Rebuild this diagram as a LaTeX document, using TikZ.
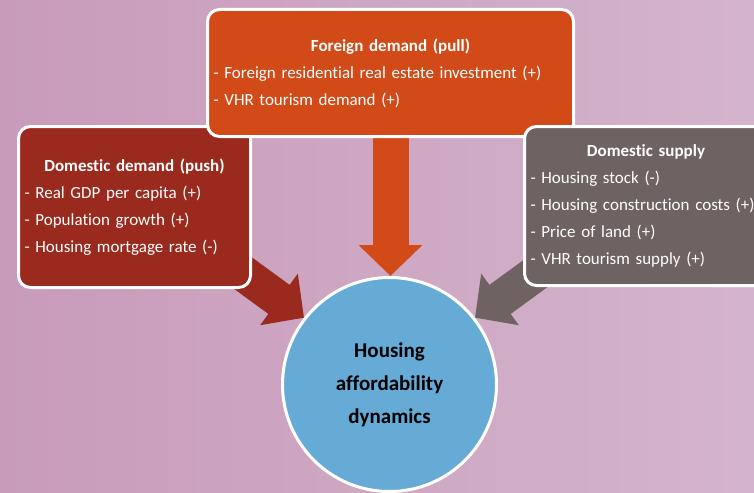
\documentclass[tikz,border=0pt]{standalone}
\usepackage{fontspec}
\setmainfont{Carlito}[Ligatures=NoCommon]
\usetikzlibrary{arrows.meta,calc}

\definecolor{bgleft}{RGB}{200,155,186}
\definecolor{bgright}{RGB}{212,180,204}
\definecolor{pullorange}{RGB}{210,74,23}
\definecolor{pushred}{RGB}{154,42,30}
\definecolor{supplygrey}{RGB}{110,98,98}
\definecolor{coreblue}{RGB}{102,170,214}

\pgfdeclarelayer{bg}
\pgfdeclarelayer{arrows}
\pgfsetlayers{bg,arrows,main}

\newcommand\boxtitle[1]{\makebox[\hsize][c]{\bfseries #1}}

\tikzset{
  factorbox/.style={draw=white, line width=3pt, rounded corners=12pt,
    text=white, inner xsep=6pt, inner ysep=0pt, align=left,
    font=\fontsize{17}{27}\selectfont},
  hub/.style={circle, draw=white, line width=3pt, fill=coreblue,
    minimum size=214pt, inner sep=0pt, align=center,
    font=\bfseries\fontsize{21}{33}\selectfont},
  flow/.style={line width=36pt, -{Triangle[length=31pt,width=62pt]}},
}

\begin{document}
\begin{tikzpicture}[x=1pt, y=-1pt]
  \clip (0,0) rectangle (754,492);

  % factor boxes
  \node[factorbox, fill=pushred, minimum width=232pt, minimum height=161pt,
        text width=220pt] (dd) at (134.5,207)
    {\boxtitle{Domestic demand (push)}\\
     - Real GDP per capita (+)\\
     - Population growth (+)\\
     - Housing mortgage rate (-)};

  \node[factorbox, fill=pullorange, minimum width=366pt, minimum height=127pt,
        text width=354pt] (fd) at (390.5,73)
    {\boxtitle{Foreign demand (pull)}\\
     - Foreign residential real estate investment (+)\\
     - VHR tourism demand (+)};

  \node[factorbox, fill=supplygrey, minimum width=243pt, minimum height=159pt,
        text width=231pt] (gs) at (646,206)
    {\boxtitle{Domestic supply}\\
     - Housing stock (-)\\
     - Housing construction costs (+)\\
     - Price of land (+)\\
     - VHR tourism supply (+)};

  % central outcome
  \node[hub] (hc) at (389.5,384.5) {Housing\\affordability\\dynamics};

  % arrow tails hidden under the boxes
  \coordinate (ddtail) at ($(dd.center)+(70,38)$);
  \coordinate (gstail) at ($(gs.center)+(-70,38)$);

  \begin{pgfonlayer}{arrows}
    \draw[flow, pushred] (ddtail) -- (hc.142);
    \draw[flow, pullorange] (fd.south) -- (fd.south |- hc.north);
    \draw[flow, supplygrey] (gstail) -- (hc.38);
  \end{pgfonlayer}

  \begin{pgfonlayer}{bg}
    \fill[left color=bgleft, right color=bgright] (0,0) rectangle (754,492);
  \end{pgfonlayer}
\end{tikzpicture}
\end{document}
